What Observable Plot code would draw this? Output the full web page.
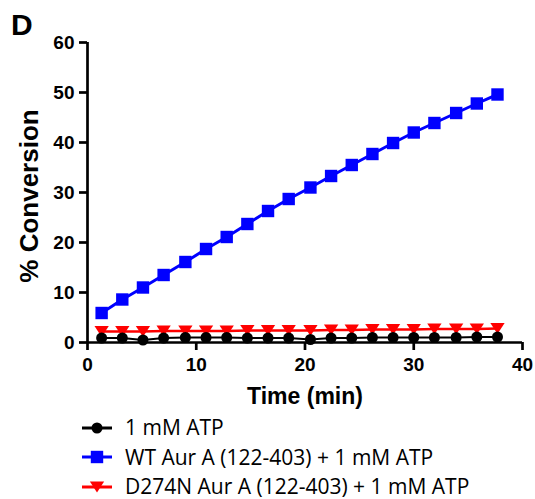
<!DOCTYPE html>
<html>
<head>
<meta charset="utf-8">
<script src="https://cdn.jsdelivr.net/npm/d3@7"></script>
<script src="https://cdn.jsdelivr.net/npm/@observablehq/plot@0.6"></script>
<style>
  html, body { margin: 0; padding: 0; background: #fff; }
  body { width: 535px; height: 499px; overflow: hidden; position: relative; font-family: "Liberation Sans", Arial, sans-serif; }
  #panel { position: absolute; left: 11px; top: 9.6px; font: bold 30px/30px "Liberation Sans", Arial, sans-serif; color: #000; }
  #chart svg { display: block; }
  #legend { padding-top: 3px; }
  .row { height: 29.5px; display: flex; align-items: center; }
  .row svg { margin-left: 81px; display: block; }
  .row span { margin-left: 12px; font: 21px/1 "Open Sans", sans-serif; color: #000; white-space: nowrap; }
</style>
</head>
<body>
<div id="panel">D</div>
<div id="chart"></div>
<div id="legend"></div>
<script>
// ---- data ----
const time = [1.3, 3.2, 5.1, 7.0, 9.0, 10.9, 12.8, 14.7, 16.6, 18.5, 20.5, 22.4, 24.3, 26.2, 28.1, 30.0, 31.9, 33.9, 35.8, 37.7];
const atpOnly = [0.9, 0.9, 0.5, 0.9, 1.0, 1.0, 1.0, 0.9, 0.9, 0.9, 0.6, 0.9, 0.9, 1.0, 1.0, 1.0, 1.0, 1.0, 1.1, 1.1];
const wtAurA = [5.9, 8.6, 11.0, 13.5, 16.1, 18.7, 21.1, 23.7, 26.3, 28.7, 31.0, 33.3, 35.5, 37.7, 39.9, 42.0, 43.9, 45.9, 47.8, 49.6];
const d274nAurA = [2.2, 2.2, 2.2, 2.3, 2.3, 2.3, 2.3, 2.4, 2.4, 2.4, 2.4, 2.5, 2.5, 2.6, 2.6, 2.6, 2.7, 2.7, 2.7, 2.8];
const seriesNames = ["1 mM ATP", "WT Aur A (122-403) + 1 mM ATP", "D274N Aur A (122-403) + 1 mM ATP"];
const xTicks = [0, 10, 20, 30, 40];
const yTicks = [0, 10, 20, 30, 40, 50, 60];
const xTitle = "Time (min)";
const yTitle = "% Conversion";

// ---- styling ----
const triDown = {
  draw(ctx, size) {
    const r = Math.sqrt(size / Math.PI);
    const w = r * 1.3, h = r * 1.0;
    ctx.moveTo(-w, -h); ctx.lineTo(w, -h); ctx.lineTo(0, h); ctx.closePath();
  }
};
const styles = [
  {color: "#000000", symbol: "circle", r: 5.5, sw: 2},
  {color: "#0000ff", symbol: "square", r: 7, sw: 3},
  {color: "#ff0000", symbol: triDown, r: 5.5, sw: 2.5}
];
const seriesValues = [atpOnly, wtAurA, d274nAurA];
const tables = seriesValues.map(vals => time.map((t, i) => ({t, v: vals[i]})));

const font = "'Liberation Sans', Arial, sans-serif";
const drawOrder = [2, 0, 1];
const seriesMarks = drawOrder.flatMap(k => [
  Plot.line(tables[k], {x: "t", y: "v", stroke: styles[k].color, strokeWidth: styles[k].sw}),
  Plot.dot(tables[k], {x: "t", y: "v", fill: styles[k].color, symbol: styles[k].symbol, r: styles[k].r})
]);

const plot = Plot.plot({
  width: 535,
  height: 410,
  marginLeft: 87,
  marginRight: 13,
  marginTop: 42,
  marginBottom: 68,
  style: {fontFamily: font, background: "#fff", color: "#000"},
  x: {domain: [0, 40]},
  y: {domain: [0, 60]},
  marks: [
    Plot.axisX({ticks: xTicks, tickSize: 8, tickPadding: 7, strokeWidth: 2.7, fontSize: 19, fontWeight: "bold", label: null, fill: "#000"}),
    Plot.axisY({ticks: yTicks, tickSize: 8, tickPadding: 5, strokeWidth: 2.7, fontSize: 19, fontWeight: "bold", label: null, fill: "#000"}),
    Plot.ruleY([0], {stroke: "#000", strokeWidth: 2.7}),
    Plot.ruleX([0], {stroke: "#000", strokeWidth: 2.7}),
    ...seriesMarks,
    Plot.text([xTitle], {frameAnchor: "bottom", textAnchor: "middle", lineAnchor: "top", dy: 45, fontSize: 23, fontWeight: "bold", fill: "#000"}),
    Plot.text([yTitle], {frameAnchor: "left", textAnchor: "middle", lineAnchor: "middle", rotate: -90, dx: -58.3, dy: 3.5, fontSize: 26, fontWeight: "bold", fill: "#000"})
  ]
});
document.getElementById("chart").appendChild(plot);

// ---- legend ----
const legend = document.getElementById("legend");
seriesNames.forEach((name, k) => {
  const row = document.createElement("div");
  row.className = "row";
  const svg = d3.create("svg").attr("width", 32).attr("height", 20);
  svg.append("line").attr("x1", 1).attr("x2", 31).attr("y1", 10).attr("y2", 10)
    .attr("stroke", styles[k].color).attr("stroke-width", 3);
  const sym = typeof styles[k].symbol === "string"
    ? (styles[k].symbol === "circle" ? d3.symbolCircle : d3.symbolSquare)
    : styles[k].symbol;
  svg.append("path").attr("transform", "translate(16,10)")
    .attr("d", d3.symbol(sym, Math.PI * styles[k].r * styles[k].r)())
    .attr("fill", styles[k].color);
  row.appendChild(svg.node());
  const span = document.createElement("span");
  span.textContent = name;
  row.appendChild(span);
  legend.appendChild(row);
});
</script>
</body>
</html>
